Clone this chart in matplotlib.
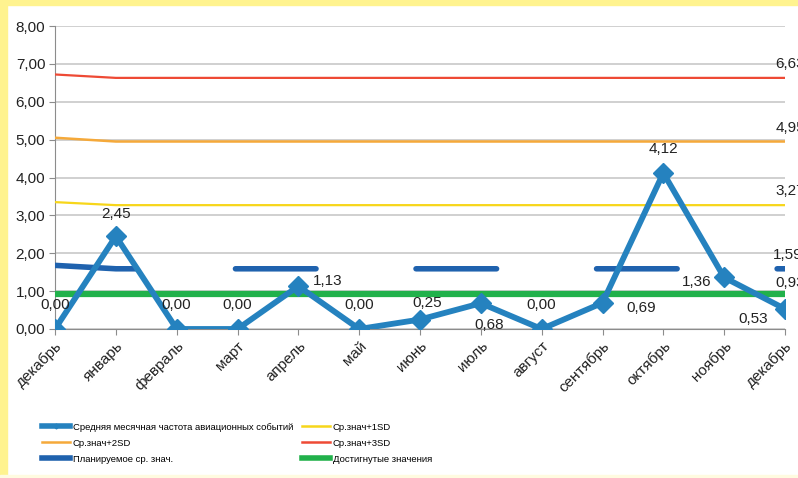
import matplotlib.pyplot as plt
from matplotlib.patches import Rectangle
from matplotlib.lines import Line2D
import numpy as np

months = ["декабрь", "январь", "февраль", "март", "апрель", "май", "июнь",
          "июль", "август", "сентябрь", "октябрь", "ноябрь", "декабрь"]
freq = [0.00, 2.45, 0.00, 0.00, 1.13, 0.00, 0.25, 0.68, 0.00, 0.69, 4.12, 1.36, 0.53]
sd1 = [3.35] + [3.27] * 12
sd2 = [5.05] + [4.95] * 12
sd3 = [6.72] + [6.63] * 12
planned = [1.68] + [1.59] * 12
achieved = [0.93] * 13

# label offsets (points) for each data label of the main series
lab_off = [(0, 17), (0, 16), (0, 17), (0, 17), (21, 4), (0, 17), (5, 12),
           (6, -16), (0, 17), (28, -4), (0, 17), (-20, -3), (-23, -7)]

c_main = "#2582BF"
c_plan = "#1F62AE"
c_green = "#21B14B"
c_yel = "#F7D61A"
c_org = "#F5A93A"
c_red = "#EE4A35"

plt.rcParams['font.family'] = ['Liberation Sans', 'DejaVu Sans']

fig = plt.figure(figsize=(7.98, 4.78), dpi=100)
# yellow frame
fig.patches.append(Rectangle((0, 0), 7/798, 1, transform=fig.transFigure,
                             color="#FFF38F", zorder=-10))
fig.patches.append(Rectangle((0, 1 - 5/478), 1, 5/478, transform=fig.transFigure,
                             color="#FFF38F", zorder=-10))
fig.patches.append(Rectangle((0, 0), 1, 3/478, transform=fig.transFigure,
                             color="#FFFBE0", zorder=-10))

ax = fig.add_axes([55/798, 1 - 329/478, 730/798, 303/478])
x = np.arange(len(months))

ax.plot(x, sd1, color=c_yel, lw=1.6, zorder=3)
ax.plot(x, sd2, color=c_org, lw=1.8, zorder=3)
ax.plot(x, sd3, color=c_red, lw=1.6, zorder=3)
ax.plot(x, planned, color=c_plan, lw=4, zorder=4,
        linestyle=(0, (58/4, 72/4)), dash_capstyle="round")
ax.plot(x, achieved, color=c_green, lw=4.5, zorder=5)
ax.plot(x, freq, color=c_main, lw=4.2, marker="D", ms=10, zorder=6,
        solid_joinstyle="miter")

for i, v in enumerate(freq):
    ax.annotate(f"{v:.2f}".replace(".", ","), (x[i], v), xytext=lab_off[i],
                textcoords="offset points", ha="center", va="center",
                fontsize=11, color="#222222", zorder=7, annotation_clip=False)

for ser in [sd3, sd2, sd1, planned, achieved]:
    dy = 8 if ser is achieved else 10
    dx = -9 if ser is planned else -7
    ax.annotate(f"{ser[-1]:.2f}".replace(".", ","), (x[-1], ser[-1]),
                xytext=(dx, dy), textcoords="offset points",
                ha="left", va="center", fontsize=11, color="#222222",
                annotation_clip=False)

ax.set_xlim(0, 12)
ax.set_ylim(0, 8)
ax.set_yticks(np.arange(0, 9, 1))
ax.set_yticklabels([f"{v:.2f}".replace(".", ",") for v in np.arange(0, 9, 1)],
                   fontsize=11)
ax.set_xticks(x)
ax.set_xticklabels(months, rotation=45, ha="right", rotation_mode="anchor",
                   fontsize=11)
ax.grid(axis="y", color="#C8C8C8", lw=1.2)
ax.set_axisbelow(True)
for s in ["top", "right"]:
    ax.spines[s].set_visible(False)
for s in ["left", "bottom"]:
    ax.spines[s].set_color("#8C8C8C")
ax.tick_params(axis="both", colors="#8C8C8C", labelcolor="#222222", length=4,
               pad=3)

leg_kw = dict(loc="upper left", frameon=False,
              prop={"family": ["Liberation Sans", "DejaVu Sans"], "size": 6.8},
              handlelength=3.0, handletextpad=0.3, labelspacing=0.75,
              borderpad=0.4)
h1 = [Line2D([], [], color=c_main, lw=4, marker="D", ms=2.5),
      Line2D([], [], color=c_org, lw=1.8),
      Line2D([], [], color=c_plan, lw=4)]
l1 = ["Средняя месячная частота авиационных событий", "Ср.знач+2SD",
      "Планируемое ср. знач."]
h2 = [Line2D([], [], color=c_yel, lw=1.8),
      Line2D([], [], color=c_red, lw=1.8),
      Line2D([], [], color=c_green, lw=4)]
l2 = ["Ср.знач+1SD", "Ср.знач+3SD", "Достигнутые значения"]
fig.legend(h1, l1, bbox_to_anchor=(33/798, 1 - 414/478), **leg_kw)
fig.legend(h2, l2, bbox_to_anchor=(293/798, 1 - 414/478), **leg_kw)

fig.savefig("out.png", dpi=100)
